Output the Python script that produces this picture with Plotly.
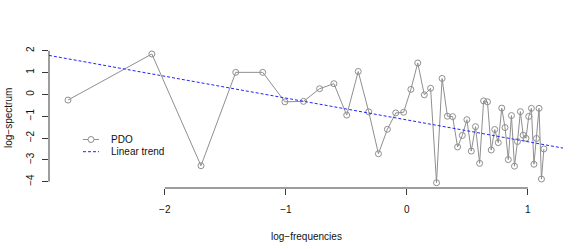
import plotly.graph_objects as go

# ---- data ----
log_freq = [-2.800, -2.107, -1.701, -1.414, -1.191, -1.008, -0.854, -0.721, -0.603, -0.497,
            -0.402, -0.315, -0.235, -0.161, -0.092, -0.027, 0.033, 0.090, 0.144, 0.196,
            0.245, 0.291, 0.335, 0.378, 0.419, 0.458, 0.496, 0.532, 0.567, 0.601,
            0.634, 0.666, 0.697, 0.726, 0.755, 0.784, 0.811, 0.838, 0.864, 0.889,
            0.914, 0.938, 0.961, 0.984, 1.007, 1.029, 1.050, 1.071, 1.092, 1.112,
            1.132]
log_spec = [-0.26, 1.85, -3.27, 1.01, 1.01, -0.34, -0.32, 0.26, 0.49, -0.95,
            1.05, -0.80, -2.72, -1.60, -0.85, -0.82, 0.23, 1.44, -0.02, 0.28,
            -4.05, 0.73, -1.00, -1.02, -2.41, -1.88, -1.16, -2.60, -1.48, -3.16,
            -0.30, -0.34, -2.55, -1.61, -2.21, -0.63, -1.52, -2.99, -0.97, -3.29,
            -2.16, -0.79, -1.87, -2.01, -1.01, -0.64, -3.20, -2.02, -0.64, -3.88,
            -2.50]
trend_intercept = -1.17
trend_slope = -1.00
x_ticks = [-2, -1, 0, 1]
y_ticks = [-4, -3, -2, -1, 0, 1, 2]
series_name = "PDO"
trend_name = "Linear trend"
x_title = "log\u2212frequencies"
y_title = "log\u2212spectrum"

# ---- style ----
W, H = 588, 249
ML, MT = 49, 49
PW, PH = 514, 139
MR, MB = W - ML - PW, H - MT - PH
FONT = "Liberation Sans, Arial, sans-serif"
GRAY = "#8f8f8f"
BLUE = "#2222ff"
AX = "#3a3a3a"
x_range = [-2.957, 1.290]
y_range = [-4.29, 2.08]


def lab(v):
    return str(v).replace("-", "\u2212")


def px_x(p):  # page pixel -> paper fraction
    return (p - ML) / PW


def px_y(p):
    return (MT + PH - p) / PH


fig = go.Figure()
fig.add_trace(go.Scatter(
    x=log_freq, y=log_spec, mode="lines+markers", name=series_name,
    line=dict(color=GRAY, width=1),
    marker=dict(symbol="circle-open", size=6, color=GRAY, line=dict(width=1, color=GRAY)),
    showlegend=False, hoverinfo="skip"))

trend_x = list(x_range)
trend_y = [trend_intercept + trend_slope * v for v in trend_x]
fig.add_trace(go.Scatter(
    x=trend_x, y=trend_y, mode="lines", name=trend_name,
    line=dict(color=BLUE, width=1, dash="3px,2px"),
    showlegend=False, hoverinfo="skip"))

shapes = [
    # R-style axis lines: from first to last tick only
    dict(type="line", xref="x", yref="paper", x0=min(x_ticks), x1=max(x_ticks), y0=0, y1=0,
         line=dict(color=AX, width=1)),
    dict(type="line", xref="paper", yref="y", x0=0, x1=0, y0=min(y_ticks), y1=max(y_ticks),
         line=dict(color=AX, width=1)),
]

# manual R-style legend
leg_x0, leg_x1, leg_text = 83, 99, 109
leg_rows = [139.5, 151.7]
shapes.append(dict(type="line", xref="paper", yref="paper",
                   x0=px_x(leg_x0), x1=px_x(leg_x1), y0=px_y(leg_rows[0]), y1=px_y(leg_rows[0]),
                   line=dict(color=GRAY, width=1)))
shapes.append(dict(type="circle", xref="paper", yref="paper",
                   xsizemode="pixel", ysizemode="pixel",
                   xanchor=px_x((leg_x0 + leg_x1) / 2), yanchor=px_y(leg_rows[0]),
                   x0=-3, x1=3, y0=-3, y1=3,
                   line=dict(color=GRAY, width=1), fillcolor="white"))
shapes.append(dict(type="line", xref="paper", yref="paper",
                   x0=px_x(leg_x0), x1=px_x(leg_x1), y0=px_y(leg_rows[1]), y1=px_y(leg_rows[1]),
                   line=dict(color=BLUE, width=1, dash="3px,2px")))

annotations = [
    dict(text=series_name, xref="paper", yref="paper", x=px_x(leg_text), y=px_y(leg_rows[0]),
         xanchor="left", yanchor="middle", showarrow=False, font=dict(size=10, color="#111")),
    dict(text=trend_name, xref="paper", yref="paper", x=px_x(leg_text), y=px_y(leg_rows[1]),
         xanchor="left", yanchor="middle", showarrow=False, font=dict(size=10, color="#111")),
    dict(text=x_title, xref="paper", yref="paper", x=0.5, y=px_y(236),
         xanchor="center", yanchor="middle", showarrow=False, font=dict(size=10, color="#111")),
    dict(text=y_title, xref="paper", yref="paper", x=px_x(8.5), y=0.5, textangle=-90,
         xanchor="center", yanchor="middle", showarrow=False, font=dict(size=10, color="#111")),
]

fig.update_layout(
    width=W, height=H,
    margin=dict(l=ML, r=MR, t=MT, b=MB, pad=0),
    paper_bgcolor="white", plot_bgcolor="white",
    font=dict(family=FONT, size=10, color="#111"),
    showlegend=False,
    shapes=shapes, annotations=annotations,
    xaxis=dict(range=x_range, tickvals=x_ticks, ticktext=[lab(v) for v in x_ticks],
               ticks="outside", ticklen=6, tickwidth=1, tickcolor=AX,
               showline=False, showgrid=False, zeroline=False, ticklabelstandoff=6,
               fixedrange=True),
    yaxis=dict(range=y_range, tickvals=y_ticks, ticktext=[lab(v) for v in y_ticks],
               tickangle=-90, ticks="outside", ticklen=6, tickwidth=1, tickcolor=AX,
               showline=False, showgrid=False, zeroline=False, ticklabelstandoff=4,
               fixedrange=True),
)

fig.write_html(
    "out.html",
    config={"displayModeBar": False, "staticPlot": True},
    post_script="document.body.style.margin='0';document.body.style.padding='0';",
)
